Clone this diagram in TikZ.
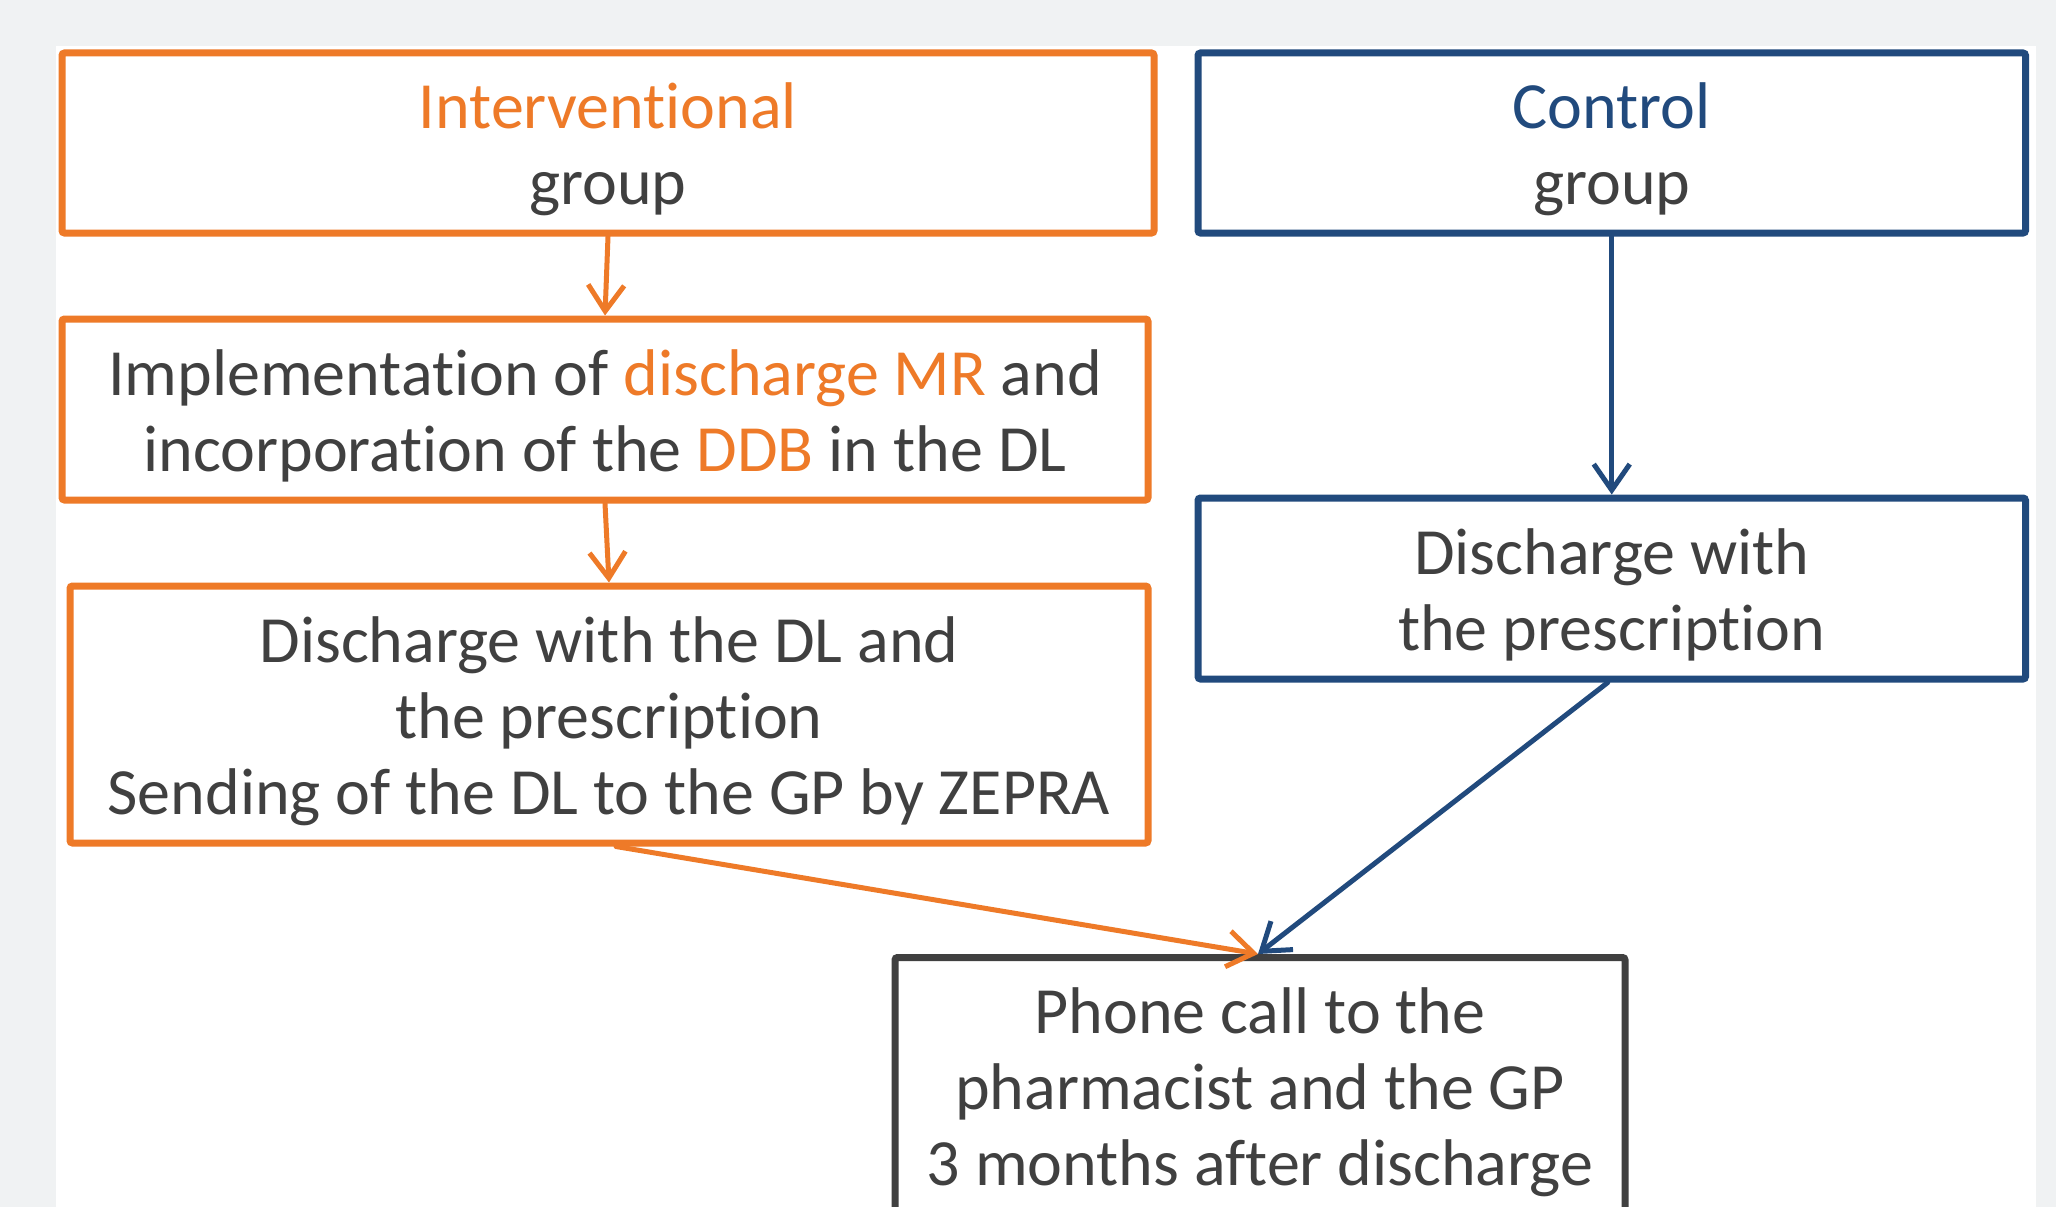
\documentclass[tikz,border=0pt]{standalone}
\usepackage{fontspec}
\setmainfont{Carlito}[Ligatures={TeX,NoCommon}]
\usetikzlibrary{arrows.meta}
\definecolor{orng}{RGB}{238,122,40}
\definecolor{navy}{RGB}{33,74,125}
\definecolor{txtgray}{RGB}{64,64,64}
\definecolor{bggray}{RGB}{240,242,243}
\newcommand{\tstrut}{\rule{0pt}{64pt}}
\newcommand{\bstrut}{\rule[-17pt]{0pt}{17pt}}
\tikzset{
  boxbase/.style={rectangle, draw, line width=7pt, rounded corners=2.5pt, fill=white,
    align=center, inner sep=0pt, text=txtgray,
    font=\fontsize{66}{76}\selectfont},
  obox/.style={boxbase, draw=orng},
  bbox/.style={boxbase, draw=navy},
  gbox/.style={boxbase, draw=txtgray},
  arr/.style={line width=5pt, line cap=round, line join=round,
    -{Straight Barb[length=26pt,width=36pt,line width=5pt]}},
}
\begin{document}
\begin{tikzpicture}[x=1pt,y=-1pt]
\useasboundingbox (0,0) rectangle (2056,1207);
\clip (0,0) rectangle (2056,1207);
\fill[bggray] (0,0) rectangle (2056,1207);
\fill[white] (56,46) rectangle (2036,1207);

\node[obox, minimum width=1092pt, minimum height=180pt] (int) at (608,143)
  {\tstrut{\color{orng}Interventional}\\group\bstrut};
\node[obox, minimum width=1086pt, minimum height=181pt] (impl) at (605,409.5)
  {\tstrut Implementation of {\color{orng}discharge MR} and\\incorporation of the {\color{orng}DDB} in the DL\bstrut};
\node[obox, minimum width=1078pt, minimum height=257pt] (dis1) at (609,714.5)
  {\tstrut Discharge with the DL and\\the prescription\\Sending of the DL to the GP by ZEPRA\bstrut};
\node[bbox, minimum width=827.5pt, minimum height=180pt] (ctrl) at (1611.75,143)
  {\tstrut{\color{navy}Control}\\group\bstrut};
\node[bbox, minimum width=827.5pt, minimum height=181pt] (dis2) at (1611.75,588.5)
  {\tstrut Discharge with\\the prescription\bstrut};
\node[gbox, minimum width=730pt, minimum height=257pt] (phone) at (1260,1086)
  {\tstrut Phone call to the\\pharmacist and the GP\\3 months after discharge\bstrut};

\draw[arr, orng] (int.south) -- (impl.north);
\draw[arr, orng] (impl.south) -- (dis1.north);
\draw[arr, navy] (ctrl.south) -- (dis2.north);
\draw[arr, orng] ([xshift=7pt]dis1.south) -- ([xshift=-2pt]phone.north);
\draw[arr, navy] ([xshift=-4pt]dis2.south) -- ([xshift=-2pt]phone.north);
\end{tikzpicture}
\end{document}
